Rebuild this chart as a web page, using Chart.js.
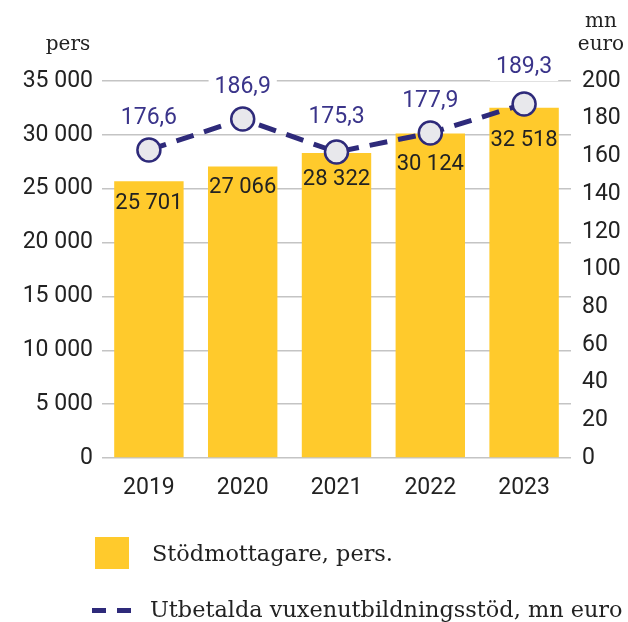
<!DOCTYPE html>
<html lang="sv">
<head>
    <meta charset="UTF-8">
    <title>Stödmottagare och utbetalda vuxenutbildningsstöd</title>
    <script src="https://cdn.jsdelivr.net/npm/chart.js"></script>
    <style>
        body { margin: 0; background: #fff; }
        #wrap { position: relative; width: 628px; height: 622px; font-family: "DejaVu Serif", serif; color: #222; }
        #legend { position: absolute; left: 0; top: 0; width: 628px; height: 622px; pointer-events: none; }
        .item { position: absolute; font-size: 22.4px; line-height: 26px; white-space: nowrap; }
        .box { position: absolute; }
    </style>
</head>
<body>
<div id="wrap">
    <canvas id="chart" width="628" height="622"></canvas>
    <div id="legend">
        <div class="box" style="left:95px; top:537px; width:34px; height:32px; background:#ffca2c;"></div>
        <div class="item" style="left:152px; top:540px;">Stödmottagare, pers.</div>
        <div class="box" style="left:92px; top:608px; width:14px; height:5px; background:#2e2a7a;"></div>
        <div class="box" style="left:117px; top:608px; width:14px; height:5px; background:#2e2a7a;"></div>
        <div class="item" style="left:150px; top:596px;">Utbetalda vuxenutbildningsstöd, mn euro</div>
    </div>
</div>
<script>
    // data
    const years = ['2019', '2020', '2021', '2022', '2023'];
    const recipients = [25701, 27066, 28322, 30124, 32518];
    // where the markers sit on the right axis (mn euro)
    const paidOut = [163.4, 179.8, 162.3, 172.4, 187.8];
    // the figures printed above the markers
    const paidOutLabels = ['176,6', '186,9', '175,3', '177,9', '189,3'];

    const yellow = '#ffca2c';
    const navy = '#2e2a7a';
    const numFont = 'Roboto, sans-serif';
    const serif = '"DejaVu Serif", serif';

    function fmt(n) {
        return String(n).replace(/\B(?=(\d{3})+(?!\d))/g, ' ');
    }

    // offsets of the value labels (px), tuned to the picture
    const barLabelDy = [22, 21, 27, 31, 33];
    const lineLabelDy = [-32, -32, -35, -32, -37];

    const labelPlugin = {
        id: 'valueLabels',
        beforeDatasetsDraw(chart) {
            // white patches that break the gridlines behind the line labels
            const ctx = chart.ctx;
            const pts = chart.getDatasetMeta(1).data;
            ctx.save();
            ctx.font = '23px ' + numFont;
            ctx.fillStyle = '#fff';
            pts.forEach((p, i) => {
                const w = ctx.measureText(paidOutLabels[i]).width;
                ctx.fillRect(p.x - w / 2 - 6, p.y + lineLabelDy[i] - 14, w + 12, 28);
            });
            ctx.restore();
        },
        afterDatasetsDraw(chart) {
            const ctx = chart.ctx;
            ctx.save();
            ctx.textAlign = 'center';
            ctx.textBaseline = 'middle';

            ctx.font = '22px ' + numFont;
            ctx.fillStyle = '#222';
            chart.getDatasetMeta(0).data.forEach((b, i) => {
                ctx.fillText(fmt(recipients[i]), b.x, b.y + barLabelDy[i]);
            });

            ctx.font = '23px ' + numFont;
            ctx.fillStyle = '#3a348a';
            chart.getDatasetMeta(1).data.forEach((p, i) => {
                ctx.fillText(paidOutLabels[i], p.x, p.y + lineLabelDy[i]);
            });

            // axis unit titles
            ctx.font = '20px ' + serif;
            ctx.fillStyle = '#222';
            ctx.fillText('pers', 68, 45);
            ctx.fillText('mn', 601, 22);
            ctx.fillText('euro', 601, 45);
            ctx.restore();
        }
    };

    new Chart(document.getElementById('chart'), {
        data: {
            labels: years,
            datasets: [
                {
                    type: 'bar',
                    label: 'Stödmottagare, pers.',
                    data: recipients,
                    backgroundColor: yellow,
                    yAxisID: 'y',
                    categoryPercentage: 1,
                    barPercentage: 0.74,
                    order: 2
                },
                {
                    type: 'line',
                    label: 'Utbetalda vuxenutbildningsstöd, mn euro',
                    data: paidOut,
                    yAxisID: 'y1',
                    borderColor: navy,
                    borderWidth: 5,
                    borderDash: [18, 11],
                    pointRadius: 11.5,
                    pointBorderWidth: 2.5,
                    pointBorderColor: navy,
                    pointBackgroundColor: '#e8e8ec',
                    tension: 0,
                    order: 1
                }
            ]
        },
        options: {
            responsive: false,
            animation: false,
            layout: { padding: { top: 81, bottom: 0, left: 0, right: 0 } },
            plugins: {
                legend: { display: false },
                tooltip: { enabled: false }
            },
            scales: {
                x: {
                    grid: { display: false },
                    border: { display: false },
                    ticks: { color: '#222', font: { family: numFont, size: 23 }, padding: 8 },
                    afterFit(s) { s.height = 164; }
                },
                y: {
                    position: 'left',
                    min: 0,
                    max: 35000,
                    ticks: {
                        stepSize: 5000,
                        color: '#222',
                        padding: 9,
                        font: { family: numFont, size: 23 },
                        callback: v => fmt(v)
                    },
                    grid: { color: '#c4c4c4', lineWidth: 1.5, drawTicks: false },
                    border: { display: false },
                    afterFit(s) { s.width = 102; }
                },
                y1: {
                    position: 'right',
                    min: 0,
                    max: 200,
                    ticks: {
                        stepSize: 20,
                        color: '#222',
                        padding: 11,
                        font: { family: numFont, size: 23 }
                    },
                    grid: { display: false, drawTicks: false },
                    border: { display: false },
                    afterFit(s) { s.width = 57; }
                }
            }
        },
        plugins: [labelPlugin]
    });
</script>
</body>
</html>
